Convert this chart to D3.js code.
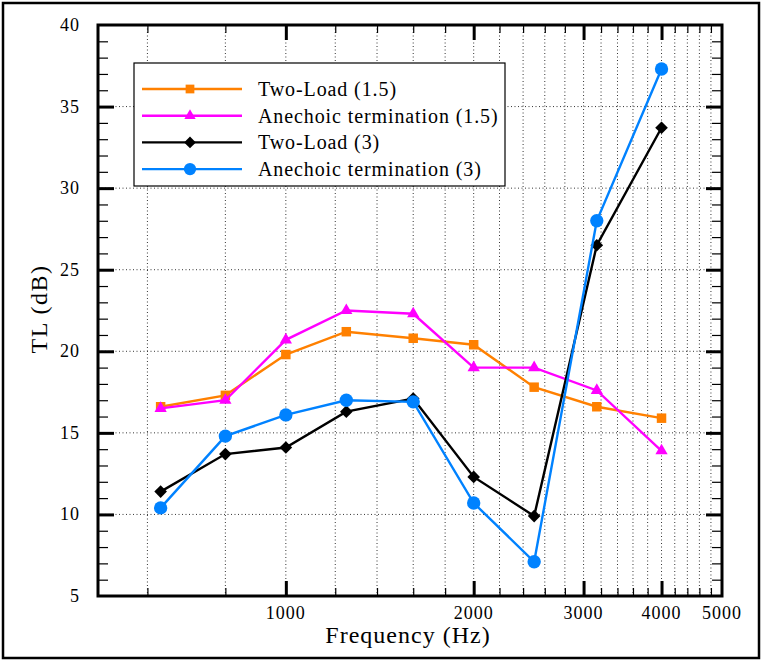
<!DOCTYPE html>
<html>
<head>
<meta charset="utf-8">
<script src="https://cdn.jsdelivr.net/npm/d3@7"></script>
<style>
  body { margin: 0; background: #fff; }
</style>
</head>
<body>
<div id="chart"></div>
<script>
// Frequency bands (Hz) and TL values (dB)
const freqs = [630, 800, 1000, 1250, 1600, 2000, 2500, 3150, 4000];
const twoLoad15 = [16.6, 17.3, 19.8, 21.2, 20.8, 20.4, 17.8, 16.6, 15.9];
const anechoic15 = [16.5, 17.0, 20.7, 22.5, 22.3, 19.0, 19.0, 17.6, 13.9];
const twoLoad3 = [11.4, 13.7, 14.1, 16.3, 17.1, 12.3, 9.9, 26.5, 33.7];
const anechoic3 = [10.4, 14.8, 16.1, 17.0, 16.9, 10.7, 7.1, 28.0, 37.3];

const seriesNames = ["Two-Load (1.5)", "Anechoic termination (1.5)", "Two-Load (3)", "Anechoic termination (3)"];
const xTickLabels = [1000, 2000, 3000, 4000, 5000];
const yTickLabels = [5, 10, 15, 20, 25, 30, 35, 40];

const serif = "'Liberation Serif', 'Times New Roman', serif";

const series = [
  { name: seriesNames[0], values: twoLoad15, color: "#ff8000", symbol: d3.symbolSquare, size: 90, rot: 0 },
  { name: seriesNames[1], values: anechoic15, color: "#ff00ff", symbol: d3.symbolTriangle, size: 65, rot: 0 },
  { name: seriesNames[2], values: twoLoad3, color: "#000000", symbol: d3.symbolSquare, size: 80, rot: 45 },
  { name: seriesNames[3], values: anechoic3, color: "#0082ff", symbol: d3.symbolCircle, size: 140, rot: 0 }
];

const W = 762, H = 661;
const margin = { top: 25, right: 40, bottom: 65, left: 98 };
const plotW = W - margin.left - margin.right;   // 624
const plotH = H - margin.top - margin.bottom;   // 571

const x = d3.scaleLog().domain([500, 5000]).range([0, plotW]);
const y = d3.scaleLinear().domain([5, 40]).range([plotH, 0]);

const svg = d3.select("#chart").append("svg")
    .attr("width", W)
    .attr("height", H)
    .attr("font-family", serif);

// outer border
svg.append("rect")
    .attr("x", 3).attr("y", 3)
    .attr("width", W - 6).attr("height", H - 6)
    .attr("fill", "none")
    .attr("stroke", "#000")
    .attr("stroke-width", 2.5);

const g = svg.append("g")
    .attr("transform", `translate(${margin.left},${margin.top})`);

// minor x positions every 200 Hz
const xMinor = d3.range(600, 5000, 200).filter(v => v % 1000 !== 0);
const xMajor = [1000, 2000, 3000, 4000];
const yMinor = d3.range(6, 40, 1).filter(v => v % 5 !== 0);
const yMajor = [10, 15, 20, 25, 30, 35];

// grid lines
const grid = g.append("g")
    .attr("stroke", "#000")
    .attr("stroke-width", 0.8)
    .attr("stroke-dasharray", "1,2.5");
grid.selectAll(".gx").data(xMinor.concat(xMajor)).join("line")
    .attr("x1", d => x(d)).attr("x2", d => x(d))
    .attr("y1", 0).attr("y2", plotH);
grid.selectAll(".gy").data(yMajor).join("line")
    .attr("x1", 0).attr("x2", plotW)
    .attr("y1", d => y(d)).attr("y2", d => y(d));

// axes with inward ticks
function tickAxis(axisFn, scale, values, size, width, tr) {
  const a = g.append("g")
      .attr("transform", tr)
      .call(axisFn(scale).tickValues(values).tickSize(size).tickFormat(""));
  a.select(".domain").remove();
  a.selectAll("line").attr("stroke-width", width);
  return a;
}
tickAxis(d3.axisBottom, x, xMinor, -8, 1.2, `translate(0,${plotH})`);
tickAxis(d3.axisBottom, x, xMajor, -15, 3, `translate(0,${plotH})`);
tickAxis(d3.axisTop, x, xMinor, -8, 1.2, "translate(0,0)");
tickAxis(d3.axisTop, x, xMajor, -15, 3, "translate(0,0)");
tickAxis(d3.axisLeft, y, yMinor, -10, 1.2, "translate(0,0)");
tickAxis(d3.axisLeft, y, yMajor, -16, 3, "translate(0,0)");
tickAxis(d3.axisRight, y, yMinor, -10, 1.2, `translate(${plotW},0)`);
tickAxis(d3.axisRight, y, yMajor, -16, 3, `translate(${plotW},0)`);

// tick labels
g.append("g").selectAll("text").data(xTickLabels).join("text")
    .attr("x", d => x(d))
    .attr("y", plotH + 23)
    .attr("text-anchor", "middle")
    .attr("font-family", serif)
    .attr("font-size", 18)
    .attr("letter-spacing", 1)
    .text(d => d);
g.append("g").selectAll("text").data(yTickLabels).join("text")
    .attr("x", -18)
    .attr("y", d => y(d) + 6)
    .attr("text-anchor", "end")
    .attr("font-family", serif)
    .attr("font-size", 18)
    .attr("letter-spacing", 1)
    .text(d => d);

// frame
g.append("rect")
    .attr("width", plotW).attr("height", plotH)
    .attr("fill", "none")
    .attr("stroke", "#000")
    .attr("stroke-width", 3);

// axis titles
svg.append("text")
    .attr("x", margin.left + plotW / 2 - 2)
    .attr("y", H - 18)
    .attr("text-anchor", "middle")
    .attr("font-family", serif)
    .attr("font-size", 24)
    .attr("letter-spacing", 1)
    .text("Frequency (Hz)");
svg.append("text")
    .attr("transform", `translate(47,${margin.top + 284}) rotate(-90)`)
    .attr("text-anchor", "middle")
    .attr("font-family", serif)
    .attr("font-size", 24)
    .attr("letter-spacing", 1.5)
    .text("TL (dB)");

// series
const line = d3.line()
    .x(d => x(d[0]))
    .y(d => y(d[1]));

series.forEach(s => {
  const pts = freqs.map((f, i) => [f, s.values[i]]);
  g.append("path")
      .datum(pts)
      .attr("fill", "none")
      .attr("stroke", s.color)
      .attr("stroke-width", 2.4)
      .attr("d", line);
  g.append("g").selectAll("path").data(pts).join("path")
      .attr("transform", d => `translate(${x(d[0])},${y(d[1])}) rotate(${s.rot})`)
      .attr("d", d3.symbol().type(s.symbol).size(s.size))
      .attr("fill", s.color);
});

// legend
const lg = svg.append("g").attr("transform", "translate(134,63)");
lg.append("rect")
    .attr("width", 371).attr("height", 123)
    .attr("fill", "#fff")
    .attr("stroke", "#000")
    .attr("stroke-width", 1.2);
series.forEach((s, i) => {
  const row = lg.append("g").attr("transform", `translate(0,${26 + i * 26.7})`);
  row.append("line")
      .attr("x1", 8).attr("x2", 108)
      .attr("stroke", s.color)
      .attr("stroke-width", 2.4);
  row.append("path")
      .attr("transform", `translate(56,0) rotate(${s.rot})`)
      .attr("d", d3.symbol().type(s.symbol).size(s.size * 0.85))
      .attr("fill", s.color);
  row.append("text")
      .attr("x", 124)
      .attr("y", 7)
      .attr("font-family", serif)
      .attr("font-size", 20)
      .attr("letter-spacing", 0.9)
      .text(s.name);
});
</script>
</body>
</html>
